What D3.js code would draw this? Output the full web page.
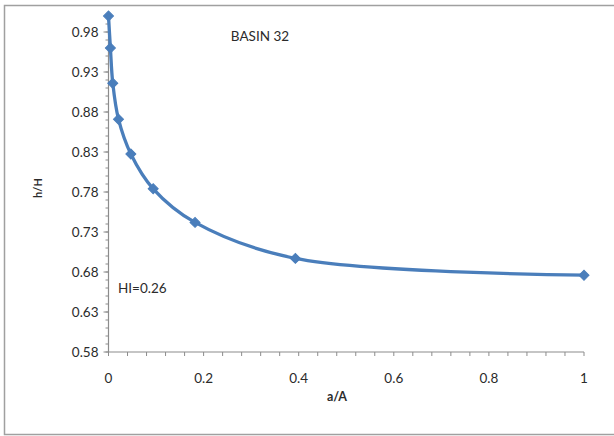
<!DOCTYPE html>
<html>
<head>
<meta charset="utf-8">
<script src="https://cdn.jsdelivr.net/npm/d3@7"></script>
<style>
  body { margin: 0; background: #fff; }
  text { font-family: Lato, "Open Sans", sans-serif; fill: #2b2b2b; }
</style>
</head>
<body>
<div id="chart"></div>
<script>
// hypsometric curve values (a/A, h/H)
var areaRatio = [0, 0.004, 0.009, 0.021, 0.047, 0.094, 0.182, 0.393, 1];
var heightRatio = [1.0, 0.96, 0.916, 0.871, 0.8275, 0.784, 0.742, 0.697, 0.676];
var yTicks = [0.58, 0.63, 0.68, 0.73, 0.78, 0.83, 0.88, 0.93, 0.98];
var xTicks = [0, 0.2, 0.4, 0.6, 0.8, 1];
var chartTitle = "BASIN 32";
var hiLabel = "HI=0.26";

var svgWidth = 614, svgHeight = 436;

var svg = d3.select("#chart").append("svg")
  .attr("width", svgWidth)
  .attr("height", svgHeight);

// outer frame
svg.append("rect")
  .attr("x", 4.5).attr("y", 5.5)
  .attr("width", 640).attr("height", 429)
  .attr("fill", "none")
  .attr("stroke", "#a0a0a0")
  .attr("stroke-width", 1.5);

var xScale = d3.scaleLinear().domain([0, 1]).range([108.5, 584]);
var yScale = d3.scaleLinear().domain([0.58, 1.0]).range([352, 16]);

var axisColor = "#8c8c8c";

// y axis: minor ticks every 0.01
var yMinor = d3.range(58, 101).map(d => d / 100);
var yAxisG = svg.append("g").attr("transform", `translate(${xScale(0)},0)`);
yAxisG.append("line")
  .attr("y1", yScale(0.58)).attr("y2", yScale(1.0))
  .attr("stroke", axisColor).attr("stroke-width", 1.2);
yAxisG.selectAll("line.minor").data(yMinor).enter().append("line")
  .attr("class", "minor")
  .attr("x1", -3).attr("x2", 0)
  .attr("y1", d => yScale(d)).attr("y2", d => yScale(d))
  .attr("stroke", axisColor);
yAxisG.selectAll("line.major").data(yTicks).enter().append("line")
  .attr("class", "major")
  .attr("x1", -5).attr("x2", 0)
  .attr("y1", d => yScale(d)).attr("y2", d => yScale(d))
  .attr("stroke", axisColor);
yAxisG.selectAll("text").data(yTicks).enter().append("text")
  .attr("x", -10)
  .attr("y", d => yScale(d))
  .attr("dy", "0.35em")
  .attr("text-anchor", "end")
  .style("font-size", "13.5px")
  .text(d => d.toFixed(2));

// x axis: minor ticks every 0.04
var xMinor = d3.range(0, 26).map(d => d * 0.04);
var xAxisG = svg.append("g").attr("transform", `translate(0,${yScale(0.58)})`);
xAxisG.append("line")
  .attr("x1", xScale(0)).attr("x2", xScale(1))
  .attr("stroke", axisColor).attr("stroke-width", 1.2);
xAxisG.selectAll("line.minor").data(xMinor).enter().append("line")
  .attr("class", "minor")
  .attr("x1", d => xScale(d)).attr("x2", d => xScale(d))
  .attr("y1", 0).attr("y2", 4)
  .attr("stroke", axisColor);
xAxisG.selectAll("text").data(xTicks).enter().append("text")
  .attr("x", d => xScale(d))
  .attr("y", 26)
  .attr("dy", "0.35em")
  .attr("text-anchor", "middle")
  .style("font-size", "13.5px")
  .text(d => d3.format("~g")(d));

// axis titles
svg.append("text")
  .attr("x", 337).attr("y", 397)
  .attr("dy", "0.35em")
  .attr("text-anchor", "middle")
  .style("font-size", "12.5px")
  .style("font-weight", "bold")
  .text("a/A");

svg.append("text")
  .attr("transform", "translate(38,188) rotate(-90)")
  .attr("dy", "0.35em")
  .attr("text-anchor", "middle")
  .style("font-size", "11px")
  .style("font-weight", "bold")
  .text("h/H");

// annotations
svg.append("text")
  .attr("x", 260).attr("y", 36)
  .attr("dy", "0.35em")
  .attr("text-anchor", "middle")
  .style("font-size", "13.5px")
  .text(chartTitle);

svg.append("text")
  .attr("x", 118).attr("y", 288)
  .attr("dy", "0.35em")
  .style("font-size", "13.5px")
  .text(hiLabel);

// smoothed line with diamond markers
var points = areaRatio.map((a, i) => ({ a: a, h: heightRatio[i] }));

var line = d3.line()
  .x(d => xScale(d.a))
  .y(d => yScale(d.h))
  .curve(d3.curveCatmullRom.alpha(0.5));

svg.append("path")
  .datum(points)
  .attr("d", line)
  .attr("fill", "none")
  .attr("stroke", "#4a7ebb")
  .attr("stroke-width", 3.3);

svg.selectAll("path.marker").data(points).enter().append("path")
  .attr("class", "marker")
  .attr("d", d3.symbol().type(d3.symbolSquare).size(50))
  .attr("transform", d => `translate(${xScale(d.a)},${yScale(d.h)}) rotate(45)`)
  .attr("fill", "#4a7ebb")
  .attr("stroke", "#4a7ebb")
  .attr("stroke-width", 1);
</script>
</body>
</html>
